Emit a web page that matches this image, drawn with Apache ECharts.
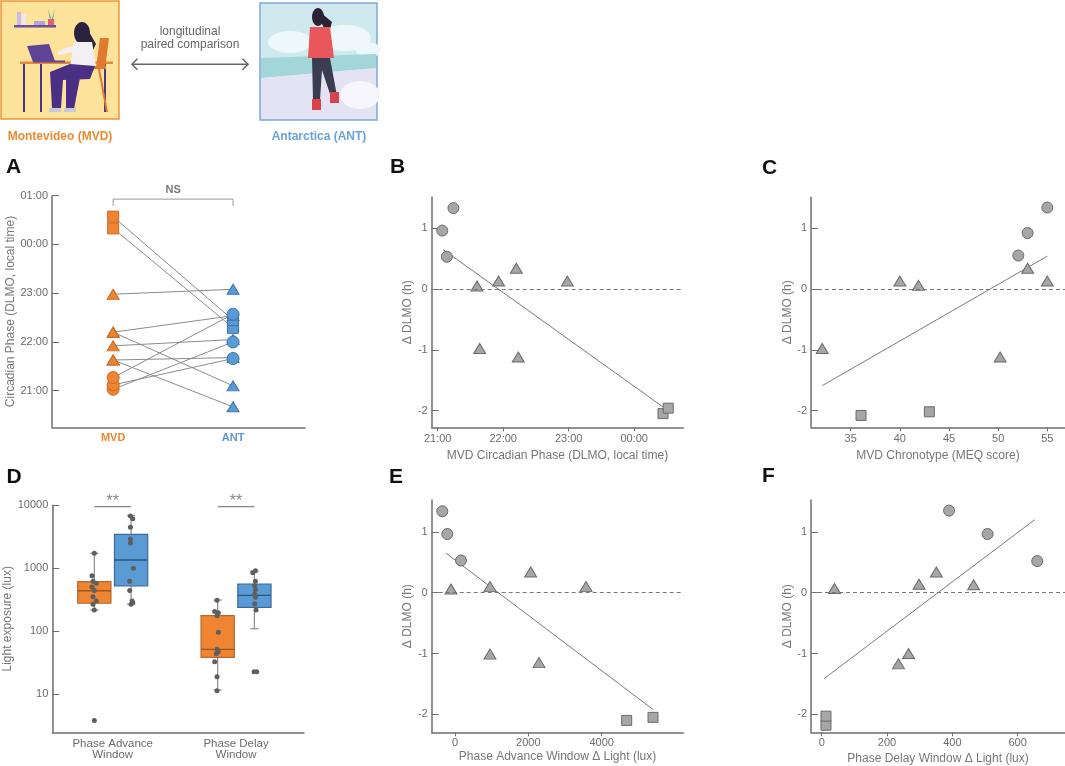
<!DOCTYPE html>
<html>
<head>
<meta charset="utf-8">
<title>DLMO Montevideo vs Antarctica</title>
<script src="https://cdn.jsdelivr.net/npm/echarts@6.0.0/dist/echarts.min.js"></script>
<style>
html, body { margin: 0; padding: 0; background: #fff; }
#main { width: 1065px; height: 766px; }
</style>
</head>
<body>
<div id="main"></div>
<script>
// ---- data ----
var sites = ['MVD', 'ANT'];
// subject marker shape (same order in every panel)
var shapes = ['circle', 'circle', 'circle', 'triangle', 'triangle', 'triangle',
              'triangle', 'triangle', 'triangle', 'rect', 'rect'];

// A: DLMO in decimal hours (24.5 = 00:30)
var mvdPhase = [21.03, 21.12, 21.27, 21.63, 21.63, 21.92, 22.20, 22.20, 22.98, 24.33, 24.57];
var antPhase = [22.00, 21.66, 22.57, 21.68, 20.67, 22.05, 22.54, 21.10, 23.08, 22.29, 22.45];
var phaseTicks = [21, 22, 23, 24, 25];

// B: MVD phase vs delta DLMO
var bX = [21.07, 21.14, 21.24, 21.60, 21.64, 21.93, 22.20, 22.23, 22.98, 24.44, 24.52];
var bY = [0.96, 0.53, 1.33, 0.05, -0.98, 0.13, 0.34, -1.12, 0.13, -2.05, -1.96];
var bFit = [[21.08, 0.65], [24.44, -1.94]];
var bTicks = [21, 22, 23, 24];

// C: MEQ score vs delta DLMO
var cX = [53, 52.05, 55, 41.9, 32.1, 40, 53, 50.2, 55, 36.05, 43];
var cY = [0.92, 0.55, 1.34, 0.06, -0.98, 0.13, 0.34, -1.12, 0.13, -2.08, -2.02];
var cFit = [[32.1, -1.59], [55, 0.54]];
var cTicks = [35, 40, 45, 50, 55];

// E: advance window delta light vs delta DLMO
var eX = [-210, 164, -346, -109, 955, 955, 2064, 2291, 3573, 4682, 5400];
var eY = [0.965, 0.53, 1.34, 0.06, -1.01, 0.10, 0.34, -1.15, 0.10, -2.10, -2.05];
var eFit = [[-245, 0.65], [5400, -1.92]];
var eTicks = [0, 2000, 4000];

// F: delay window delta light vs delta DLMO
var fX = [508, 660, 390, 39, 266, 298, 351, 235, 465, 13, 13];
var fY = [0.965, 0.52, 1.35, 0.07, -1.00, 0.14, 0.34, -1.17, 0.13, -2.18, -2.03];
var fFit = [[8, -1.41], [652, 1.2]];
var fTicks = [0, 200, 400, 600];

var deltaTicks = [-2, -1, 0, 1];

// D: light exposure (lux), boxes in order MVD adv, ANT adv, MVD delay, ANT delay
var windows = ['Phase Advance\nWindow', 'Phase Delay\nWindow'];
var boxLo  = [216, 267, 11.6, 109];
var boxQ1  = [277, 521, 38.3, 239];
var boxMed = [438, 1350, 51.3, 371];
var boxQ3  = [610, 3460, 176, 561];
var boxHi  = [1726, 6840, 312, 901];
var luxTicks = [10, 100, 1000, 10000];

var advMvdLux = [1726, 760, 618, 575, 502, 440, 352, 301, 267, 216, 3.8];
var advMvdJit = [0, -0.93, -0.53, 0.79, -0.93, 0, -0.53, 0.79, -0.53, 0, 0];
var advAntLux = [6760, 6120, 4470, 2910, 2520, 995, 618, 440, 301, 283, 267];
var advAntJit = [-0.26, 0.66, -0.26, -0.26, -0.26, 0.93, -0.53, -0.53, 0.4, 0.66, 0];
var delMvdLux = [308, 204, 196, 176, 95.5, 51.3, 47.1, 43.8, 32.6, 18.8, 11.3];
var delMvdJit = [-0.26, -1.19, 0.26, -0.26, 0.26, -0.26, 0.26, -0.53, -1.19, -0.26, -0.26];
var delAntLux = [914, 849, 618, 527, 455, 385, 344, 273, 216, 22.6, 22.6];
var delAntJit = [0.4, -0.66, 0.4, 0.13, 0.4, 0.13, 0.4, 0.13, 0.66, -0.13, 0.93];

// ---- styling ----
var FONT = '"Liberation Sans", Arial, sans-serif';
var ORANGE = '#ef8532', ORANGE_DK = '#c9691f';
var BLUE = '#5b9bd5', BLUE_DK = '#3c72ad';
var AXIS_C = '#6e6e6e';
var windowPos = [24, 73];
var BOX_OFF = 7.3, BOX_HALF = 6.6;
var boxPos = [windowPos[0] - BOX_OFF, windowPos[0] + BOX_OFF, windowPos[1] - BOX_OFF, windowPos[1] + BOX_OFF];
var symSize = { circle: 11, triangle: [12, 10], rect: 10 };
var symSizeA = { circle: 12, triangle: [12, 10], rect: 11 };

function clock(v) {
  var h = ((Math.round(v) % 24) + 24) % 24;
  return (h < 10 ? '0' : '') + h + ':00';
}

var grids = [
  { left: 52, top: 195.7, width: 253, height: 231.6 },
  { left: 431.7, top: 197.3, width: 251.6, height: 230 },
  { left: 811, top: 197.3, width: 254, height: 230 },
  { left: 52.3, top: 505.3, width: 251.7, height: 227 },
  { left: 431.7, top: 500, width: 251.6, height: 232.3 },
  { left: 811, top: 500, width: 254, height: 232.3 }
].map(function (g) { g.containLabel = false; g.outerBoundsMode = 'none'; return g; });

function baseAxis(grid, min, max) {
  return {
    gridIndex: grid, type: 'value', min: min, max: max, scale: true,
    axisLine: { show: true, onZero: false, lineStyle: { color: AXIS_C, width: 1.5 } },
    splitLine: { show: false }
  };
}
function xAx(grid, min, max, ticks, fmt, name, gap, margin) {
  var a = baseAxis(grid, min, max);
  a.axisTick = { show: true, customValues: ticks, length: 4, lineStyle: { color: AXIS_C, width: 1 } };
  a.axisLabel = { customValues: ticks, formatter: fmt, color: '#6b6b6b', fontSize: 11, fontFamily: FONT, margin: margin };
  a.name = name; a.nameLocation = 'middle'; a.nameGap = gap;
  a.nameTextStyle = { color: '#777', fontSize: 12, fontFamily: FONT };
  return a;
}
function yAx(grid, min, max, ticks, fmt, name, gap) {
  var a = baseAxis(grid, min, max);
  a.axisTick = { show: true, inside: true, customValues: ticks, length: 7, lineStyle: { color: AXIS_C, width: 1 } };
  a.axisLabel = { customValues: ticks, formatter: fmt, color: '#6b6b6b', fontSize: 11, fontFamily: FONT, margin: 4 };
  a.name = name; a.nameLocation = 'middle'; a.nameGap = gap;
  a.nameTextStyle = { color: '#777', fontSize: 12, fontFamily: FONT };
  return a;
}
function num(v) { return String(Math.round(v)); }

var xAxes = [
  (function () {
    var a = baseAxis(0, -0.51, 1.6);
    a.axisTick = { show: false };
    a.axisLabel = {
      customValues: [0, 1], margin: 5,
      formatter: function (v) { return '{s' + v + '|' + sites[v] + '}'; },
      rich: {
        s0: { color: ORANGE, fontWeight: 'bold', fontSize: 11, fontFamily: FONT },
        s1: { color: BLUE, fontWeight: 'bold', fontSize: 11, fontFamily: FONT }
      }
    };
    return a;
  })(),
  xAx(1, 20.908, 24.75, bTicks, clock, 'MVD Circadian Phase (DLMO, local time)', 22, 6),
  xAx(2, 30.96, 56.8, cTicks, num, 'MVD Chronotype (MEQ score)', 22, 6),
  (function () {
    var a = baseAxis(3, 0, 100);
    a.axisTick = { show: false };
    a.axisLabel = {
      customValues: windowPos, margin: 6, color: '#6b6b6b', fontSize: 11.5, fontFamily: FONT, lineHeight: 11,
      formatter: function (v) { return windows[windowPos.indexOf(v)]; }
    };
    return a;
  })(),
  xAx(4, -635, 6226, eTicks, num, 'Phase Advance Window \u0394 Light (lux)', 18, 5),
  xAx(5, -32.8, 745, fTicks, num, 'Phase Delay Window \u0394 Light (lux)', 20, 5)
];

var yAxes = [
  yAx(0, 20.25, 25, phaseTicks, clock, 'Circadian Phase (DLMO, local time)', 35),
  yAx(1, -2.275, 1.508, deltaTicks, num, '\u0394 DLMO (h)', 13),
  yAx(2, -2.275, 1.508, deltaTicks, num, '\u0394 DLMO (h)', 13),
  (function () {
    var a = yAx(3, 2.46, 10000, luxTicks, num, 'Light exposure (lux)', 33);
    a.type = 'log'; a.logBase = 10; delete a.scale;
    return a;
  })(),
  yAx(4, -2.296, 1.525, deltaTicks, num, '\u0394 DLMO (h)', 13),
  yAx(5, -2.296, 1.525, deltaTicks, num, '\u0394 DLMO (h)', 13)
];

// ---- series ----
var series = [];

// A: pair lines
mvdPhase.forEach(function (m, i) {
  series.push({
    type: 'line', xAxisIndex: 0, yAxisIndex: 0, silent: true, symbol: 'none', z: 1,
    data: [[0, m], [1, antPhase[i]]],
    lineStyle: { color: '#8c8c8c', width: 1 }
  });
});
// A: markers, drawn squares -> triangles -> circles
var drawOrder = ['rect', 'triangle', 'circle'];
function siteSeries(k, phases, fill, stroke) {
  var pts = [];
  drawOrder.forEach(function (s) {
    phases.forEach(function (p, i) {
      if (shapes[i] === s) pts.push({ value: [k, p], symbol: s, symbolSize: symSizeA[s] });
    });
  });
  return {
    type: 'scatter', xAxisIndex: 0, yAxisIndex: 0, z: 3, data: pts,
    itemStyle: { color: fill, borderColor: stroke, borderWidth: 1, opacity: 1 }
  };
}
series.push(siteSeries(0, mvdPhase, ORANGE, ORANGE_DK));
series.push(siteSeries(1, antPhase, BLUE, BLUE_DK));
// A: NS bracket
series.push({
  type: 'line', xAxisIndex: 0, yAxisIndex: 0, silent: true, symbol: 'none', z: 2,
  data: [[0, 24.79], [0, 24.93], [1, 24.93], [1, 24.79]],
  lineStyle: { color: '#999', width: 1 }
});
series.push({
  type: 'scatter', xAxisIndex: 0, yAxisIndex: 0, symbolSize: 0, silent: true,
  data: [[0.5, 24.93]],
  label: { show: true, position: 'top', distance: 4, formatter: 'NS', color: '#555', fontWeight: 'bold', fontSize: 11, fontFamily: FONT }
});

// B, C, E, F
function scatterPanel(g, xs, ys, fit) {
  var pts = xs.map(function (x, i) {
    return { value: [x, ys[i]], symbol: shapes[i], symbolSize: symSize[shapes[i]] };
  });
  series.push({
    type: 'line', xAxisIndex: g, yAxisIndex: g, silent: true, symbol: 'none', z: 2, data: fit,
    lineStyle: { color: '#7a7a7a', width: 1 },
    markLine: {
      silent: true, symbol: 'none', label: { show: false },
      lineStyle: { color: '#777', width: 1, type: [4, 3] },
      data: [{ yAxis: 0 }]
    }
  });
  series.push({
    type: 'scatter', xAxisIndex: g, yAxisIndex: g, z: 3, data: pts,
    itemStyle: { color: '#a6a6a6', borderColor: '#6b6b6b', borderWidth: 1, opacity: 1 }
  });
}
scatterPanel(1, bX, bY, bFit);
scatterPanel(2, cX, cY, cFit);
scatterPanel(4, eX, eY, eFit);
scatterPanel(5, fX, fY, fFit);

// D: boxes
var boxFill = [ORANGE, BLUE], boxStroke = ['#b8682c', '#3a6a9c'], medStroke = ['#9a5522', '#2c5680'];
function renderBox(params, api) {
  var x = api.value(0);
  var pLo = api.coord([x, api.value(1)]);
  var pQ1 = api.coord([x, api.value(2)]);
  var pMed = api.coord([x, api.value(3)]);
  var pQ3 = api.coord([x, api.value(4)]);
  var pHi = api.coord([x, api.value(5)]);
  var hw = api.coord([x + BOX_HALF, api.value(3)])[0] - pMed[0];
  var cap = hw * 0.25;
  var k = params.dataIndex % 2;
  var ws = { stroke: '#8c8c8c', lineWidth: 1.2 };
  return {
    type: 'group',
    children: [
      { type: 'line', shape: { x1: pMed[0], y1: pLo[1], x2: pMed[0], y2: pHi[1] }, style: ws },
      { type: 'line', shape: { x1: pMed[0] - cap, y1: pLo[1], x2: pMed[0] + cap, y2: pLo[1] }, style: ws },
      { type: 'line', shape: { x1: pMed[0] - cap, y1: pHi[1], x2: pMed[0] + cap, y2: pHi[1] }, style: ws },
      { type: 'rect', shape: { x: pMed[0] - hw, y: pQ3[1], width: 2 * hw, height: pQ1[1] - pQ3[1] },
        style: { fill: boxFill[k], stroke: boxStroke[k], lineWidth: 1.2 } },
      { type: 'line', shape: { x1: pMed[0] - hw, y1: pMed[1], x2: pMed[0] + hw, y2: pMed[1] },
        style: { stroke: medStroke[k], lineWidth: 1.3 } }
    ]
  };
}
series.push({
  type: 'custom', xAxisIndex: 3, yAxisIndex: 3, z: 2, silent: true,
  renderItem: renderBox,
  encode: { x: 0, y: [1, 2, 3, 4, 5] },
  data: boxPos.map(function (x, i) { return [x, boxLo[i], boxQ1[i], boxMed[i], boxQ3[i], boxHi[i]]; })
});
// D: dots
var dotGroups = [[advMvdLux, advMvdJit], [advAntLux, advAntJit], [delMvdLux, delMvdJit], [delAntLux, delAntJit]];
var dots = [];
dotGroups.forEach(function (grp, g) {
  grp[0].forEach(function (v, i) { dots.push([boxPos[g] + grp[1][i], v]); });
});
series.push({
  type: 'scatter', xAxisIndex: 3, yAxisIndex: 3, z: 4, symbolSize: 5, data: dots, clip: false,
  itemStyle: { color: '#5e5e5e', opacity: 1 }
});
// D: significance
[[boxPos[0], boxPos[1]], [boxPos[2], boxPos[3]]].forEach(function (pair) {
  series.push({
    type: 'line', xAxisIndex: 3, yAxisIndex: 3, silent: true, symbol: 'none', z: 2,
    data: [[pair[0], 9510], [pair[1], 9510]],
    lineStyle: { color: '#888', width: 1.2 }
  });
  series.push({
    type: 'scatter', xAxisIndex: 3, yAxisIndex: 3, symbolSize: 0, silent: true,
    data: [[(pair[0] + pair[1]) / 2, 9510]],
    label: { show: true, position: 'top', distance: -3, formatter: '**', color: '#666', fontSize: 16, fontFamily: FONT }
  });
});

// ---- header illustration & panel letters ----
function txt(x, y, s, font, color, align) {
  return { type: 'text', x: x, y: y, silent: true,
    style: { text: s, font: font, fill: color, textAlign: align || 'center', textVerticalAlign: 'middle' } };
}
function rect(x, y, w, h, fill, stroke) {
  return { type: 'rect', silent: true, shape: { x: x, y: y, width: w, height: h },
    style: { fill: fill, stroke: stroke || null, lineWidth: 1.5 } };
}
function poly(pts, fill) {
  return { type: 'polygon', silent: true, shape: { points: pts }, style: { fill: fill } };
}
function ell(cx, cy, rx, ry, fill) {
  return { type: 'ellipse', silent: true, shape: { cx: cx, cy: cy, rx: rx, ry: ry }, style: { fill: fill } };
}

var graphic = [
  // Montevideo picture
  rect(1, 1, 118, 118, '#fde29a', '#f0953a'),
  rect(14, 25, 42, 2.5, '#6c4f9e'),
  rect(17, 12, 4, 13, '#cbbbe8'), rect(22, 14, 4, 11, '#ece6f7'), rect(34, 21, 11, 4, '#b7a3db'),
  rect(48, 19, 6, 6, '#e0607a'),
  poly([[50, 19], [48, 9], [51, 18]], '#3aa59a'), poly([[52, 19], [55, 8], [53, 19]], '#3aa59a'),
  rect(20, 61.5, 93, 2.5, '#e8873a'),
  rect(23, 64, 2, 48, '#4b3384'), rect(40, 64, 2, 48, '#4b3384'), rect(104, 64, 2, 48, '#4b3384'),
  poly([[27, 46], [49, 44], [55, 61], [33, 62]], '#5e4494'),
  rect(33, 60.5, 32, 2, '#5e4494'),
  poly([[100, 38], [109, 38], [105, 68], [96, 68]], '#e07a2e'),
  rect(72, 66, 34, 3, '#e07a2e'),
  poly([[98, 69], [100, 69], [108, 112], [106, 112]], '#e07a2e'),
  poly([[78, 69], [80, 69], [74, 112], [72, 112]], '#e07a2e'),
  ell(82, 33, 8, 11, '#2a2340'),
  poly([[88, 30], [96, 44], [92, 52], [86, 42]], '#2a2340'),
  poly([[74, 42], [92, 42], [96, 66], [70, 66]], '#f3f0f5'),
  poly([[75, 45], [58, 51], [58, 55], [77, 51]], '#f3f0f5'),
  poly([[70, 64], [95, 66], [90, 79], [63, 80], [61, 108], [52, 108], [50, 72]], '#4b2f85'),
  poly([[66, 78], [80, 78], [74, 108], [66, 108]], '#4b2f85'),
  rect(49, 108, 12, 4, '#c9c9d6'), rect(64, 108, 12, 4, '#c9c9d6'),

  // Antarctica picture
  rect(260, 3, 117, 117, '#cfe9ee', '#7ea9d9'),
  ell(290, 42, 22, 11, '#eef7f9'), ell(345, 38, 26, 13, '#eef7f9'), ell(368, 50, 12, 8, '#eef7f9'),
  poly([[261, 58], [376, 54], [376, 68], [261, 78]], '#a3d6d9'),
  poly([[261, 78], [376, 68], [376, 119], [261, 119]], '#e3e3f3'),
  ell(360, 95, 20, 14, '#f6f6fc'),
  ell(318, 17, 6, 9, '#2b2236'),
  poly([[320, 12], [332, 22], [328, 36], [322, 24]], '#2b2236'),
  poly([[310, 27], [330, 27], [334, 58], [308, 58]], '#e9575d'),
  poly([[312, 58], [330, 58], [337, 96], [331, 97], [322, 70], [320, 100], [313, 100]], '#3a3d50'),
  rect(312, 99, 9, 11, '#d9434b'), rect(330, 92, 9, 11, '#d9434b'),

  txt(60, 137, 'Montevideo (MVD)', 'bold 12px ' + FONT, '#ef8a2f'),
  txt(319, 137, 'Antarctica (ANT)', 'bold 12px ' + FONT, '#6aa2dc'),
  txt(190, 32, 'longitudinal', '12px ' + FONT, '#666'),
  txt(190, 45, 'paired comparison', '12px ' + FONT, '#666'),
  { type: 'polyline', silent: true, shape: { points: [[131.7, 64.3], [248.3, 64.3]] }, style: { stroke: '#666', lineWidth: 1.5, fill: null } },
  { type: 'polyline', silent: true, shape: { points: [[137.5, 58.8], [132, 64.3], [137.5, 69.8]] }, style: { stroke: '#666', lineWidth: 1.5, fill: null } },
  { type: 'polyline', silent: true, shape: { points: [[242.5, 58.8], [248, 64.3], [242.5, 69.8]] }, style: { stroke: '#666', lineWidth: 1.5, fill: null } },

  txt(6, 167, 'A', 'bold 21px ' + FONT, '#111', 'left'),
  txt(390, 167.5, 'B', 'bold 21px ' + FONT, '#111', 'left'),
  txt(762, 168, 'C', 'bold 21px ' + FONT, '#111', 'left'),
  txt(6.5, 477, 'D', 'bold 21px ' + FONT, '#111', 'left'),
  txt(389, 477, 'E', 'bold 21px ' + FONT, '#111', 'left'),
  txt(762, 476, 'F', 'bold 21px ' + FONT, '#111', 'left')
];

var myChart = echarts.init(document.getElementById('main'), null, { renderer: 'canvas' });
myChart.setOption({
  animation: false,
  backgroundColor: '#fff',
  textStyle: { fontFamily: FONT },
  grid: grids,
  xAxis: xAxes,
  yAxis: yAxes,
  series: series,
  graphic: { elements: graphic }
});
</script>
</body>
</html>
